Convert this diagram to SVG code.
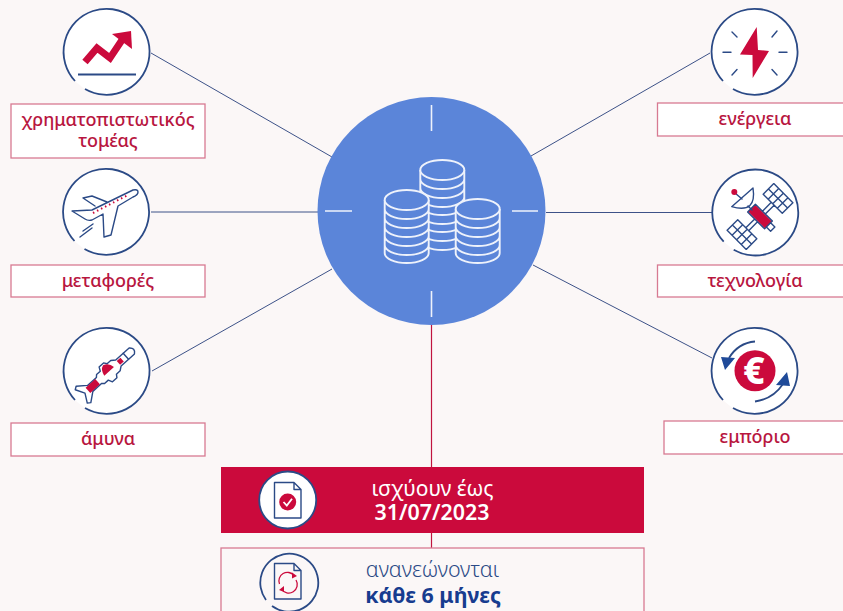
<svg xmlns="http://www.w3.org/2000/svg" xmlns:xlink="http://www.w3.org/1999/xlink" width="843" height="611" viewBox="0 0 843 611">
<style>
text{font-family:"Noto Sans","Open Sans","Liberation Sans",sans-serif;text-anchor:middle}
.lab{font-size:18px;font-weight:500;fill:#b8163f}
.box{fill:#fff;stroke:#d77a92;stroke-width:1.3}
.ring{fill:#fff}
.arc{fill:none;stroke:#2b4a86;stroke-width:1.8}
.conn{fill:none;stroke:#3d5288;stroke-width:1}
.nv{fill:none;stroke:#2b4a86;stroke-width:1.4;stroke-linejoin:round;stroke-linecap:round}
.rd{fill:#cb0a3c}
.coin{fill:#5b85d9;stroke:#eef2fb;stroke-width:1.9}
.tick{stroke:#eef2fb;stroke-width:1.6}
</style>
<defs>
<g id="ring"><circle class="ring" r="43"/><path class="arc" d="M-22 37A43 43 0 1 0-32 29"/></g>
</defs>
<rect width="843" height="611" fill="#fbf7f7"/>
<g id="connectors">
<path class="conn" d="M151 53L332 157M151 212H318M152 371L332 269M710 53L531 156M712 212.500H546M712 358L533 265"/>
<path fill="none" stroke="#c0143f" stroke-width="1.200" d="M431.500 325V548"/>
</g>
<g id="center">
<circle cx="431.500" cy="211" r="114" fill="#5b85d9"/>
<path class="tick" d="M431.500 105V131M431.500 291V317M325 211H352M512 211H538"/>
<g transform="translate(442.300 170)"><path class="coin" d="M-22 0V70A22 10 0 0 0 22 70V0M-22 9A22 10 0 0 0 22 9M-22 18A22 10 0 0 0 22 18M-22 27A22 10 0 0 0 22 27M-22 35A22 10 0 0 0 22 35M-22 44A22 10 0 0 0 22 44M-22 52A22 10 0 0 0 22 52M-22 61A22 10 0 0 0 22 61"/><ellipse class="coin" rx="22" ry="10"/></g>
<g transform="translate(406.700 200)"><path class="coin" d="M-22 0V53A22 10 0 0 0 22 53V0M-22 9A22 10 0 0 0 22 9M-22 18A22 10 0 0 0 22 18M-22 27A22 10 0 0 0 22 27M-22 36A22 10 0 0 0 22 36M-22 45A22 10 0 0 0 22 45"/><ellipse class="coin" rx="22" ry="10"/></g>
<g transform="translate(477.700 209)"><path class="coin" d="M-22 0V44A22 10 0 0 0 22 44V0M-22 9A22 10 0 0 0 22 9M-22 18A22 10 0 0 0 22 18M-22 27A22 10 0 0 0 22 27M-22 36A22 10 0 0 0 22 36"/><ellipse class="coin" rx="22" ry="10"/></g>
</g>
<g id="finance">
<use xlink:href="#ring" x="107" y="52"/>
<path d="M85 62L97 48L110 58L122 40" fill="none" stroke="#cb0a3c" stroke-width="7"/>
<path class="rd" d="M112 34L131 31L132 49Z"/>
<path class="arc" d="M78 74.500H136"/>
<rect class="box" x="11" y="104" width="194" height="54"/>
<text class="lab" x="108" y="126">χρηματοπιστωτικός</text>
<text class="lab" x="108" y="147">τομέας</text>
</g>
<g id="transport">
<use xlink:href="#ring" x="106.500" y="212"/>
<path class="nv" d="M72 211L92 210L133 190Q138 189 138 192Q138 195 133 197L118 206L111 235L104 237L103 214L92 220Q88 221 85 219ZM95 206L83 198L92 196L107 202M80 237L92 228M83 231L93 224"/>
<path d="M93 213L128 195" stroke="#cb0a3c" stroke-width="2" stroke-dasharray="1.500 3" fill="none"/>
<rect class="box" x="11" y="265" width="194" height="32"/>
<text class="lab" x="108" y="287">μεταφορές</text>
</g>
<g id="defense">
<use xlink:href="#ring" x="107" y="371"/>
<g transform="translate(109.500 371)rotate(-42)">
<path class="nv" d="M30-4Q35 0 30 4H12L8 7L3 7L1 10L-5 10L-7 6L-12 6L-14 4H-26L-35 11L-38 9L-33 0L-38-9L-35-11L-26-4H-14L-12-6L-7-6L-5-10L1-10L3-7L8-7L12-4Z"/>
<rect class="rd" x="-29" y="-3.500" width="13" height="7"/>
<path class="rd" d="M-7 0H6Q5-7-1-8.500Q-6-7-7 0Z"/>
<rect class="rd" x="12" y="-2.500" width="5" height="5"/>
<path class="nv" d="M22-4V4"/>
</g>
<rect class="box" x="11" y="423" width="194" height="33"/>
<text class="lab" x="108" y="445">άμυνα</text>
</g>
<g id="energy">
<use xlink:href="#ring" x="755" y="52"/>
<path class="rd" d="M756.700 27L740 54.500L752.500 55L752.700 78L769 51L758 50Z"/>
<path class="nv" d="M723 52.300H731M779 52.300H787M732 32L737 37M777 31L772 37M732 75L737 69.500M772 69.500L777 75"/>
<rect class="box" x="657.500" y="103" width="190" height="33"/>
<text class="lab" x="755" y="125">ενέργεια</text>
</g>
<g id="technology">
<use xlink:href="#ring" x="755.700" y="212.700"/>
<g transform="translate(760 216.500)rotate(45)">
<rect class="rd" x="-12" y="-5" width="24" height="10"/>
<path class="nv" d="M-12-5.500H12V5.500H-12ZM-2-5.500V-18M2-5.500V-18M-2 5.500V18M2 5.500V18M-13.500-33H13.500V-18H-13.500ZM-13.500 18H13.500V33H-13.500ZM-13.500-25.500H13.500M-13.500 25.500H13.500M-6.500-33V-18M0-33V-18M6.500-33V-18M-6.500 18V33M0 18V33M6.500 18V33M12-3H18V3H12Z"/>
</g>
<path d="M753 188Q757 214 731.700 206.700Z" fill="#fff" stroke="#2b4a86" stroke-width="1.400" stroke-linejoin="round"/>
<path class="nv" d="M735 193L742 199M748 206L752 210"/>
<circle class="rd" cx="734.300" cy="192" r="3"/>
<rect class="box" x="657.500" y="265" width="190" height="32"/>
<text class="lab" x="755" y="287">τεχνολογία</text>
</g>
<g id="trade">
<use xlink:href="#ring" x="755" y="371"/>
<circle class="rd" cx="755" cy="370.700" r="20.500"/>
<text x="754" y="384" style="font-size:37px;font-weight:800;fill:#fff">€</text>
<path class="arc" d="M755 341.500Q738 343 729 358M755 401.500Q773 399 783 384"/>
<path d="M721 357L735 358L725 370ZM787 372L790 386L776 385Z" fill="#1f4a99"/>
<rect class="box" x="664" y="421" width="184" height="33"/>
<text class="lab" x="755" y="443">εμπόριο</text>
</g>
<g id="valid">
<rect x="221" y="467" width="423" height="66" fill="#cb0a3c"/>
<circle cx="287.700" cy="500" r="28.500" fill="#fff" stroke="#2b4a86" stroke-width="1.800"/>
<path class="nv" d="M274.500 482.500H294L301 489.500V518H274.500ZM294 482.500V489.500H301" stroke-width="1.300"/>
<circle class="rd" cx="287.700" cy="502" r="8.500"/>
<path d="M283.500 502L286.800 505.500L292 498.800" fill="none" stroke="#fff" stroke-width="1.800"/>
<text x="432.500" y="496" style="font-size:21px;fill:#fff">ισχύουν έως</text>
<text x="432" y="520" style="font-size:21.400px;font-weight:600;fill:#fff">31/07/2023</text>
</g>
<g id="renew">
<rect x="221" y="548" width="423" height="70" fill="#fbf7f7" stroke="#d77a92" stroke-width="1.300"/>
<path class="arc" d="M272 606A29 29 0 1 0 266 600"/>
<path class="nv" d="M274.500 563.500H294L301 570.500V599H274.500ZM294 563.500V570.500H301" stroke-width="1.300"/>
<path d="M279.500 584A8.500 8.500 0 0 1 294 575.500M296 580A8.500 8.500 0 0 1 281.500 589" fill="none" stroke="#cb0a3c" stroke-width="1.300"/>
<path class="rd" d="M292 572.500L297 576L292 578.500ZM284 586L279 590L284 592Z"/>
<text x="432.500" y="577" style="font-size:21.400px;font-weight:300;fill:#2b4a86">ανανεώνονται</text>
<text x="433" y="603" style="font-size:21.400px;font-weight:700;fill:#173c8f">κάθε 6 μήνες</text>
</g>
</svg>
